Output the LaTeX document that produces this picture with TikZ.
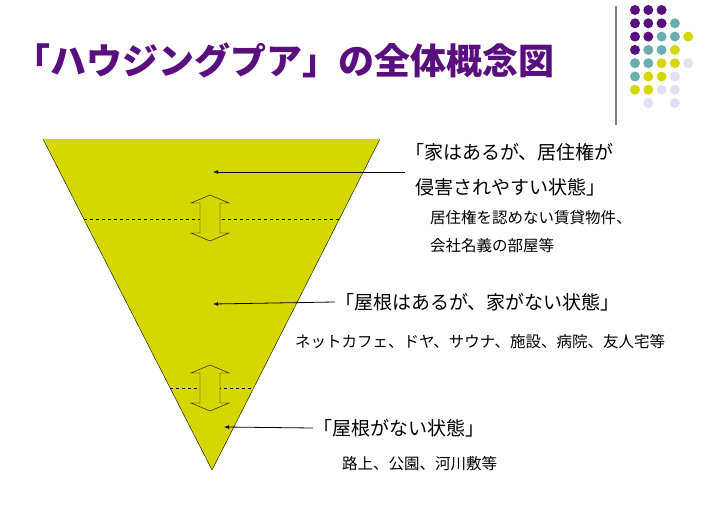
\documentclass[tikz,border=0pt]{standalone}
\usepackage{fontspec}
\setmainfont{Noto Sans CJK JP}
\usetikzlibrary{positioning}
\definecolor{pyellow}{HTML}{D4D800}
\definecolor{ppurple}{HTML}{5A0F7E}
\definecolor{pteal}{HTML}{6AAFAF}
\definecolor{plav}{HTML}{E0E0F0}
\newcommand{\updown}[2]{% centre x, centre y
    \filldraw[fill=pyellow] (#1,#2-23) -- (#1+19,#2-15) -- (#1+10,#2-15) -- (#1+10,#2+15)
        -- (#1+19,#2+15) -- (#1,#2+23) -- (#1-19,#2+15) -- (#1-10,#2+15)
        -- (#1-10,#2-15) -- (#1-19,#2-15) -- cycle;}
\begin{document}
\begin{tikzpicture}[x=1pt,y=-1pt,
    big/.style={anchor=west, font=\fontsize{19}{22}\selectfont, inner sep=0},   % state labels
    small/.style={anchor=west, font=\fontsize{15.5}{18}\selectfont, inner sep=0}, % examples
    level/.style={dashed, thin},                   % dashed borders between layers
    pointer/.style={-latex, thick}                 % arrows into the triangle
    ]
    \useasboundingbox (0,0) rectangle (707,508);

    % Title
    \node[anchor=west, text=ppurple, font=\bfseries\fontsize{36}{40}\selectfont, inner sep=0] (title) at (14,60) {「ハウジングプア」の全体概念図};

    % Decoration in the corner
    \draw[gray, line width=1.5] (616,6) -- (616,125);
    \foreach \r/\cols in {0/{0/ppurple,1/ppurple,2/ppurple},
        1/{0/ppurple,1/ppurple,2/ppurple,3/pteal},
        2/{0/ppurple,1/ppurple,2/pteal,3/pteal,4/pyellow},
        3/{0/ppurple,1/pteal,2/pteal,3/pyellow},
        4/{0/pteal,1/pteal,2/pyellow,3/pyellow,4/plav},
        5/{0/pteal,1/pyellow,2/pyellow,3/plav},
        6/{0/pyellow,1/pyellow,2/plav,3/plav},
        7/{1/plav,3/plav}}{
        \foreach \c/\col in \cols
            \fill[\col] (635+13.3*\c,10+13.3*\r) circle (5);
    }

    % Triangle
    \coordinate (tl) at (43,139);
    \coordinate (tr) at (380,139);
    \coordinate (tip) at (212,470);
    \fill[pyellow] (tl) -- (tr) -- (tip) -- cycle;
    \draw[level] (84,219) -- (340,219);
    \draw[level] (170,388) -- (254,388);
    \draw (tr) -- (tip) -- (tl);

    \updown{210}{218}
    \updown{210}{388}

    % Labels
    \node[big] (house) at (405,152) {「家はあるが、居住権が};
    \node[big] (house2) at (415,187) {侵害されやすい状態」};
    \node[small] (houseex) at (430,218) {居住権を認めない賃貸物件、};
    \node[small] (houseex2) at (430,246) {会社名義の部屋等};
    \node[big] (roof) at (335,302) {「屋根はあるが、家がない状態」};
    \node[small] (roofex) at (295,342) {ネットカフェ、ドヤ、サウナ、施設、病院、友人宅等};
    \node[big] (none) at (313,428) {「屋根がない状態」};
    \node[small] (noneex) at (342,464) {路上、公園、河川敷等};

    \coordinate (p1) at (213,172);
    \coordinate (p2) at (213,304);
    \coordinate (p3) at (224,427);
    \draw[pointer] (405,172) -- (p1);
    \draw[pointer] (roof.west) -- (p2);
    \draw[pointer] (none.west) -- (p3);
\end{tikzpicture}
\end{document}
